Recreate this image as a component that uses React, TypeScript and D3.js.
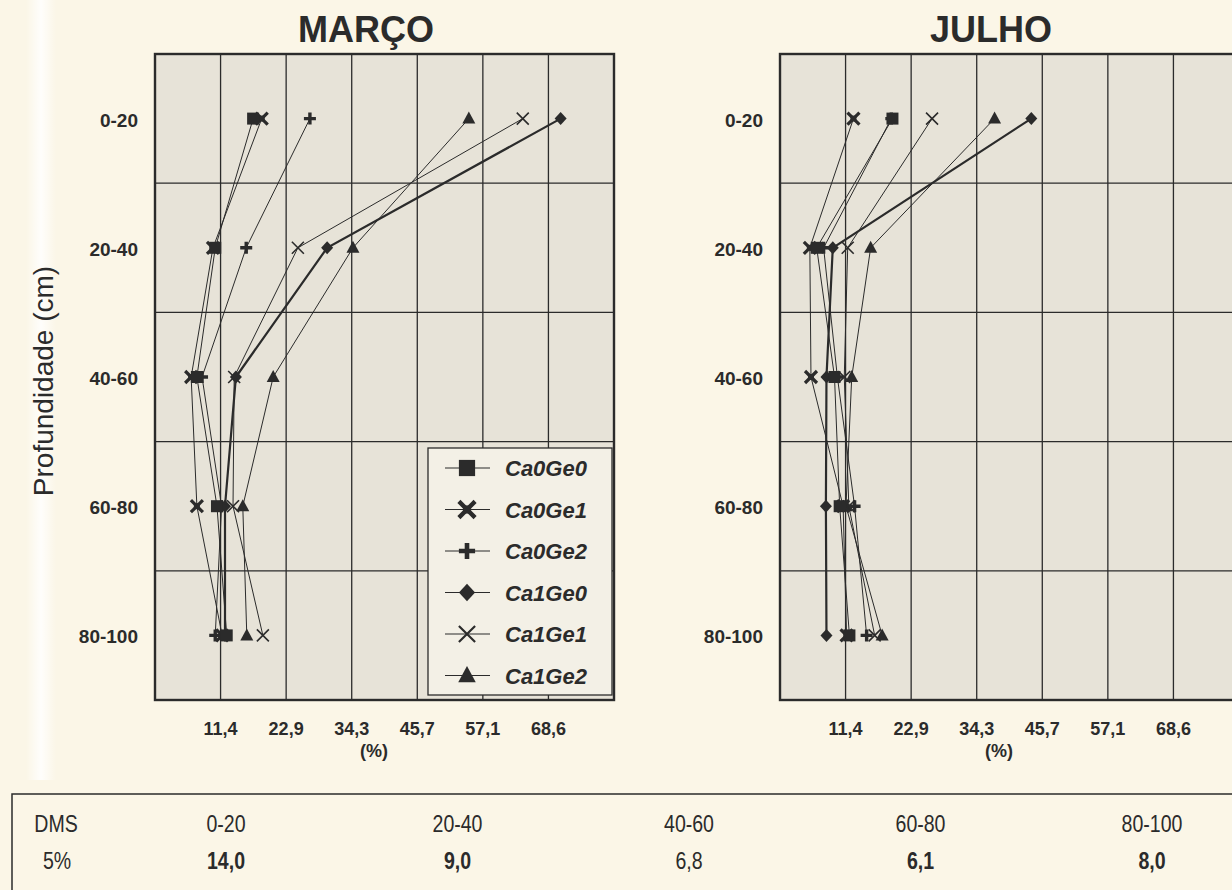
import { useEffect, useRef } from 'react';
import * as d3 from 'd3';

const INK = '#2b2b2b';
const PAGE = '#fbf6e7';
const PLOT_BG = '#e7e3d8';
const LEGEND_BG = '#f3f0e6';

const DEPTHS = ['0-20', '20-40', '40-60', '60-80', '80-100'];
const X_TICKS = [11.4, 22.9, 34.3, 45.7, 57.1, 68.6];
const SERIES = ['Ca0Ge0', 'Ca0Ge1', 'Ca0Ge2', 'Ca1Ge0', 'Ca1Ge1', 'Ca1Ge2'];

// MARÇO values (%) per depth
const MARCO_Ca0Ge0 = [17.1, 10.5, 7.3, 10.8, 12.5];
const MARCO_Ca0Ge1 = [18.6, 10.1, 6.3, 7.3, 11.7];
const MARCO_Ca0Ge2 = [27.0, 15.9, 8.2, 11.6, 10.5];
const MARCO_Ca1Ge0 = [70.7, 30.0, 14.1, 12.2, 12.2];
const MARCO_Ca1Ge1 = [64.1, 24.9, 13.8, 13.6, 18.8];
const MARCO_Ca1Ge2 = [54.7, 34.5, 20.6, 15.3, 16.0];

// JULHO values (%) per depth
const JULHO_Ca0Ge0 = [19.6, 6.4, 9.5, 10.4, 12.1];
const JULHO_Ca0Ge1 = [12.8, 5.2, 5.4, 11.0, 11.6];
const JULHO_Ca0Ge2 = [19.4, 7.6, 10.0, 13.0, 15.1];
const JULHO_Ca1Ge0 = [43.8, 9.2, 8.1, 8.0, 8.1];
const JULHO_Ca1Ge1 = [26.5, 11.8, 11.2, 12.0, 16.5];
const JULHO_Ca1Ge2 = [37.4, 15.8, 12.5, 11.5, 17.8];

const DMS_DEPTHS = ['0-20', '20-40', '40-60', '60-80', '80-100'];
const DMS_VALUES = ['14,0', '9,0', '6,8', '6,1', '8,0'];
const DMS_BOLD = [true, true, false, true, true];

const PANELS = [
  { title: 'MARÇO', values: [MARCO_Ca0Ge0, MARCO_Ca0Ge1, MARCO_Ca0Ge2, MARCO_Ca1Ge0, MARCO_Ca1Ge1, MARCO_Ca1Ge2] },
  { title: 'JULHO', values: [JULHO_Ca0Ge0, JULHO_Ca0Ge1, JULHO_Ca0Ge2, JULHO_Ca1Ge0, JULHO_Ca1Ge1, JULHO_Ca1Ge2] },
];

const SANS = '"Liberation Sans", Arial, sans-serif';

type G = d3.Selection<SVGGElement, unknown, null, undefined>;

function drawMarker(g: G, kind: number, x: number, y: number, k = 1) {
  const m = g.append('g').attr('transform', `translate(${x},${y}) scale(${k})`);
  switch (kind) {
    case 0:
      m.append('rect').attr('x', -6).attr('y', -6).attr('width', 12).attr('height', 12).attr('fill', INK);
      break;
    case 1:
      m.append('path').attr('d', 'M-6,-6L6,6M6,-6L-6,6').attr('stroke', INK).attr('stroke-width', 3.2);
      m.append('rect').attr('x', -3).attr('y', -3).attr('width', 6).attr('height', 6).attr('fill', INK);
      break;
    case 2:
      m.append('path').attr('d', 'M-6,0H6M0,-6V6').attr('stroke', INK).attr('stroke-width', 3.4);
      break;
    case 3:
      m.append('path').attr('d', 'M0,-6.5L6,0L0,6.5L-6,0Z').attr('fill', INK);
      break;
    case 4:
      m.append('path').attr('d', 'M-6,-6L6,6M6,-6L-6,6').attr('stroke', INK).attr('stroke-width', 1.6);
      break;
    default:
      m.append('path').attr('d', 'M0,-7L6.5,5L-6.5,5Z').attr('fill', INK);
  }
}

function narrowText(g: G, x: number, y: number, txt: string, bold = false) {
  g.append('text')
    .attr('transform', `translate(${x},${y}) scale(0.85,1)`)
    .attr('text-anchor', 'middle')
    .attr('font-family', SANS)
    .attr('font-weight', bold ? 'bold' : 'normal')
    .attr('font-size', 23)
    .attr('fill', INK)
    .text(txt);
}

export default function App() {
  const ref = useRef<SVGSVGElement>(null);

  useEffect(() => {
    const svg = d3.select(ref.current);
    if (!svg.node()) return;
    svg.selectAll('*').remove();

    svg.append('rect').attr('width', 1232).attr('height', 890).attr('fill', PAGE);

    // pale scan band at the left edge
    const grad = svg
      .append('defs')
      .append('linearGradient')
      .attr('id', 'band')
      .attr('x1', 0)
      .attr('x2', 1);
    grad.append('stop').attr('offset', '0%').attr('stop-color', '#ffffff').attr('stop-opacity', 0);
    grad.append('stop').attr('offset', '50%').attr('stop-color', '#ffffff').attr('stop-opacity', 0.85);
    grad.append('stop').attr('offset', '100%').attr('stop-color', '#ffffff').attr('stop-opacity', 0);
    svg.append('rect').attr('x', 26).attr('y', 0).attr('width', 30).attr('height', 780).attr('fill', 'url(#band)');

    const top = 54;
    const bottom = 700;
    const y = d3.scalePoint<string>().domain(DEPTHS).range([top, bottom]).padding(0.5);
    const step = y.step();

    svg
      .append('text')
      .attr('transform', `translate(53,${(top + bottom) / 2 + 4}) rotate(-90)`)
      .attr('text-anchor', 'middle')
      .attr('font-family', SANS)
      .attr('font-size', 28)
      .attr('fill', INK)
      .text('Profundidade (cm)');

    const lefts = [155, 780];
    const titleX = [366, 991];

    PANELS.forEach((panel, pi) => {
      const left = lefts[pi];
      const x = d3.scaleLinear().domain([0, 80]).range([left, left + 459]);
      const g = svg.append('g') as G;

      g.append('rect')
        .attr('x', x(0))
        .attr('y', top)
        .attr('width', x(80) - x(0))
        .attr('height', bottom - top)
        .attr('fill', PLOT_BG);

      X_TICKS.forEach((t, i) => {
        const xv = x((80 / 7) * (i + 1));
        g.append('line')
          .attr('x1', xv)
          .attr('x2', xv)
          .attr('y1', top)
          .attr('y2', bottom)
          .attr('stroke', INK)
          .attr('stroke-width', 1.3);
        g.append('text')
          .attr('x', xv)
          .attr('y', 735)
          .attr('text-anchor', 'middle')
          .attr('font-family', SANS)
          .attr('font-weight', 'bold')
          .attr('font-size', 18)
          .attr('fill', INK)
          .text(String(t).replace('.', ','));
      });

      DEPTHS.slice(1).forEach((d) => {
        const yv = y(d)! - step / 2;
        g.append('line')
          .attr('x1', x(0))
          .attr('x2', x(80))
          .attr('y1', yv)
          .attr('y2', yv)
          .attr('stroke', INK)
          .attr('stroke-width', 1.3);
      });

      DEPTHS.forEach((d) => {
        g.append('text')
          .attr('x', left - 17)
          .attr('y', y(d)! + 8)
          .attr('text-anchor', 'end')
          .attr('font-family', SANS)
          .attr('font-weight', 'bold')
          .attr('font-size', 19)
          .attr('fill', INK)
          .text(d);
      });

      g.append('rect')
        .attr('x', x(0))
        .attr('y', top)
        .attr('width', x(80) - x(0))
        .attr('height', bottom - top)
        .attr('fill', 'none')
        .attr('stroke', INK)
        .attr('stroke-width', 2.4);

      g.append('text')
        .attr('x', titleX[pi])
        .attr('y', 42)
        .attr('text-anchor', 'middle')
        .attr('font-family', SANS)
        .attr('font-weight', 'bold')
        .attr('font-size', 36)
        .attr('fill', INK)
        .text(panel.title);

      g.append('text')
        .attr('x', titleX[pi] + 8)
        .attr('y', 757)
        .attr('text-anchor', 'middle')
        .attr('font-family', SANS)
        .attr('font-weight', 'bold')
        .attr('font-size', 18)
        .attr('fill', INK)
        .text('(%)');

      const line = d3
        .line<number>()
        .x((v) => x(v))
        .y((_, i) => y(DEPTHS[i])!);

      panel.values.forEach((vals, si) => {
        g.append('path')
          .attr('d', line(vals)!)
          .attr('fill', 'none')
          .attr('stroke', INK)
          .attr('stroke-width', si === 3 ? 2.2 : 1);
      });
      panel.values
        .map((vals, si) => ({ vals, si }))
        .reverse()
        .forEach(({ vals, si }) => {
          vals.forEach((v, i) => drawMarker(g, si, x(v), y(DEPTHS[i])!));
        });

      if (pi === 0) {
        const lg = g.append('g') as G;
        lg.append('rect')
          .attr('x', 428)
          .attr('y', 448)
          .attr('width', 184)
          .attr('height', 247)
          .attr('fill', LEGEND_BG)
          .attr('stroke', INK)
          .attr('stroke-width', 1.3);
        SERIES.forEach((s, i) => {
          const ly = 468 + i * 41.5;
          lg.append('line')
            .attr('x1', 445)
            .attr('x2', 490)
            .attr('y1', ly)
            .attr('y2', ly)
            .attr('stroke', INK)
            .attr('stroke-width', 1.2);
          drawMarker(lg, i, 467, ly, 1.35);
          lg.append('text')
            .attr('x', 505)
            .attr('y', ly + 8)
            .attr('font-family', SANS)
            .attr('font-weight', 'bold')
            .attr('font-style', 'italic')
            .attr('font-size', 22)
            .attr('fill', INK)
            .text(s);
        });
      }
    });

    // DMS table
    const t = svg.append('g') as G;
    t.append('rect')
      .attr('x', 12)
      .attr('y', 794)
      .attr('width', 1250)
      .attr('height', 130)
      .attr('fill', 'none')
      .attr('stroke', INK)
      .attr('stroke-width', 1.5);
    narrowText(t, 56, 832, 'DMS');
    narrowText(t, 57, 869, '5%');
    const cx = d3.scalePoint<string>().domain(DMS_DEPTHS).range([226, 1152]);
    DMS_DEPTHS.forEach((d, i) => {
      narrowText(t, cx(d)!, 832, d);
      narrowText(t, cx(d)!, 869, DMS_VALUES[i], DMS_BOLD[i]);
    });
  }, []);

  return (
    <svg
      ref={ref}
      width={1232}
      height={890}
      style={{ position: 'absolute', left: 0, top: 0, display: 'block' }}
    />
  );
}
